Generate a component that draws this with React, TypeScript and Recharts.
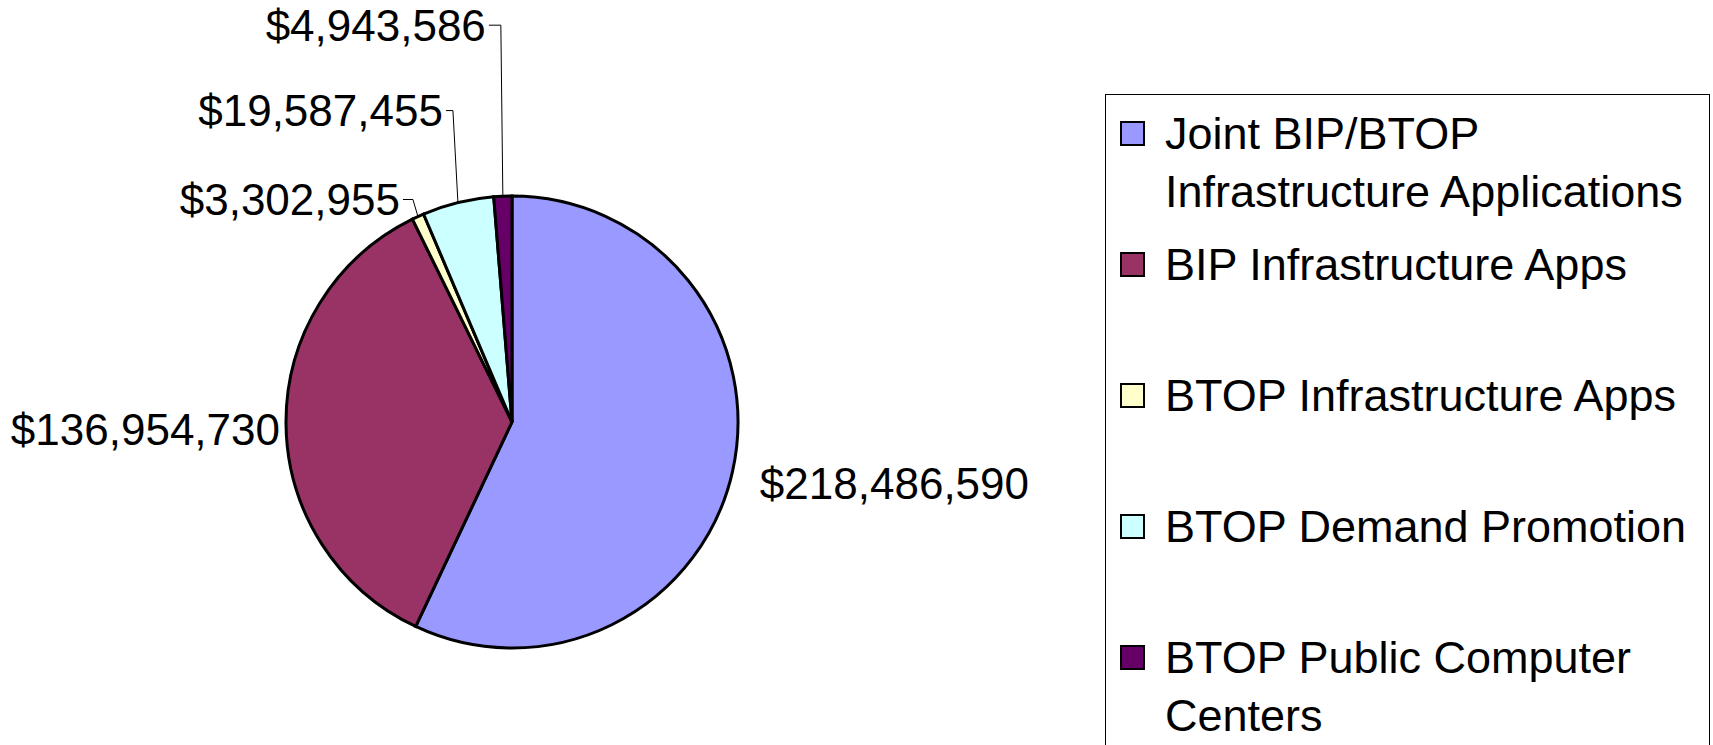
import React from 'react';
import { PieChart, Pie, Cell, Legend } from 'recharts';

const categories = [
  'Joint BIP/BTOP Infrastructure Applications',
  'BIP Infrastructure Apps',
  'BTOP Infrastructure Apps',
  'BTOP Demand Promotion',
  'BTOP Public Computer Centers',
];
const amounts = [218486590, 136954730, 3302955, 19587455, 4943586];
const colors = ['#9999FF', '#993366', '#FFFFCC', '#CCFFFF', '#660066'];

const data = categories.map((name, i) => ({ name, value: amounts[i] }));

const FONT = '"Liberation Sans", Arial, sans-serif';
const RAD = Math.PI / 180;

const fmt = (v: number) => '$' + v.toLocaleString('en-US');

// label placement rules (layout only)
const labelLayout: any[] = [
  { mode: 'radial', gap: 28, anchor: 'start', dy: 6 },
  { mode: 'radial', gap: 6, anchor: 'end', dy: 6 },
  { mode: 'leader', rise: 17, shift: -5, run: 10 },
  { mode: 'leader', rise: 92, shift: -5, run: 7 },
  { mode: 'leader', rise: 171, shift: -2, run: 12 },
];

const renderLabel = (props: any) => {
  const { cx, cy, midAngle, outerRadius, index, value } = props;
  const L = labelLayout[index];
  const cos = Math.cos(-midAngle * RAD);
  const sin = Math.sin(-midAngle * RAD);
  if (L.mode === 'radial') {
    const r = outerRadius + L.gap;
    const x = cx + r * cos;
    const y = cy + r * sin + L.dy;
    return (
      <text x={x} y={y} textAnchor={L.anchor} dominantBaseline="central" fontFamily={FONT} fontSize={44} fill="#000">
        {fmt(value)}
      </text>
    );
  }
  const ex = cx + outerRadius * cos;
  const ey = cy + outerRadius * sin;
  const bx = ex + L.shift;
  const by = ey - L.rise;
  const tx = bx - L.run;
  return (
    <g>
      <polyline points={`${ex},${ey} ${bx},${by} ${tx},${by}`} fill="none" stroke="#000" strokeWidth={1} />
      <text x={tx - 3} y={by} textAnchor="end" dominantBaseline="central" fontFamily={FONT} fontSize={44} fill="#000">
        {fmt(value)}
      </text>
    </g>
  );
};

const renderLegend = () => (
  <div style={{ fontFamily: FONT, fontSize: 45, lineHeight: '58px', color: '#000', paddingTop: 10 }}>
    {categories.map((c, i) => (
      <div key={c} style={{ position: 'relative', height: 131, paddingLeft: 59, width: 545 }}>
        <div
          style={{
            position: 'absolute',
            left: 14,
            top: 16,
            width: 21,
            height: 21,
            border: '2px solid #000',
            background: colors[i],
          }}
        />
        <div>{c}</div>
      </div>
    ))}
  </div>
);

export default function App() {
  return (
    <div style={{ position: 'absolute', left: 0, top: 0, background: '#fff' }}>
      <PieChart width={1713} height={745} margin={{ top: 0, right: 0, bottom: 0, left: 0 }}>
        <Pie
          data={data}
          dataKey="value"
          nameKey="name"
          cx={512}
          cy={422}
          outerRadius={226}
          startAngle={90}
          endAngle={-270}
          stroke="#000"
          strokeWidth={3}
          label={renderLabel}
          labelLine={false}
          isAnimationActive={false}
        >
          {data.map((d, i) => (
            <Cell key={d.name} fill={colors[i]} />
          ))}
        </Pie>
        <Legend
          layout="vertical"
          align="center"
          verticalAlign="middle"
          content={renderLegend}
          wrapperStyle={{
            position: 'absolute',
            left: 1105,
            top: 94,
            width: 605,
            height: 700,
            border: '1px solid #000',
            boxSizing: 'border-box',
            background: '#fff',
          }}
        />
      </PieChart>
    </div>
  );
}
